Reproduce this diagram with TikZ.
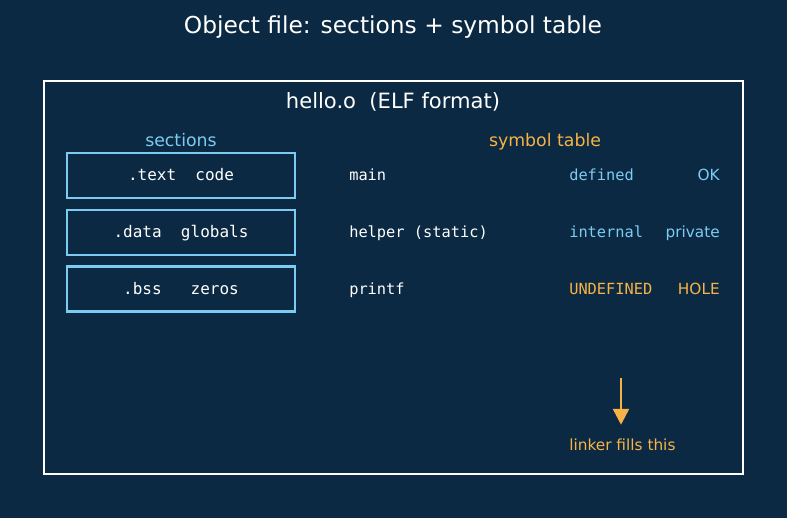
\documentclass[tikz,border=0pt]{standalone}
\usepackage{fontspec}
\setmainfont{DejaVu Sans}
\newfontfamily\codefont{DejaVu Sans Mono}
\usetikzlibrary{arrows.meta,positioning}
\definecolor{bgnavy}{HTML}{0B2942}
\definecolor{secblue}{HTML}{7CCBF2}
\definecolor{holeorange}{HTML}{F7B346}

\begin{document}
\begin{tikzpicture}[x=0.75pt,y=-0.75pt,
    secbox/.style={draw=secblue, line width=1.9pt, minimum width=171pt, minimum height=33.75pt,
        inner sep=0pt, text=white, text height=10pt, text depth=1.8pt,
        font=\codefont\fontsize{12}{14}\selectfont},
    symtext/.style={inner sep=0pt, font=\codefont\fontsize{11.5}{14}\selectfont},
    notetext/.style={inner sep=0pt, font=\fontsize{11.5}{14}\selectfont}]
    % Background and page size
    \fill[bgnavy] (0,0) rectangle (787,518);
    \useasboundingbox (0,0) rectangle (787,518);
    % Title
    \node[anchor=base, text=white, font=\fontsize{17.5}{20}\selectfont] (title) at (393,33)
        {Object file: sections + symbol table};
    % Object file frame
    \draw[white, line width=1.8pt] (44,81) rectangle (743,474);
    \node[anchor=base, text=white, font=\fontsize{15.8}{18}\selectfont] (hello) at (393,108)
        {hello.o\ \ (ELF format)};
    % Headers
    \node[anchor=base, text=secblue, font=\fontsize{13}{15}\selectfont] (sections) at (181,146) {sections};
    \node[anchor=base, text=holeorange, font=\fontsize{13}{15}\selectfont] (symtab) at (545,146) {symbol table};
    % Sections
    \node[secbox] (text) at (181,175.5) {.text\ \ code};
    \node[secbox] (data) at (181,232.5) {.data\ \ globals};
    \node[secbox] (bss) at (181,289) {.bss\ \ \ zeros};
    % Symbol table rows
    \foreach \y/\sym/\stat/\note/\col [count=\i] in
        {175/main/defined/OK/secblue,
         232/helper (static)/internal/private/secblue,
         289/printf/UNDEFINED/HOLE/holeorange} {
        \node[symtext, anchor=base west, text=white] (sym\i) at (349,\y+5) {\sym};
        \node[symtext, anchor=base west, text=\col] (stat\i) at (569,\y+5) {\stat};
        \node[notetext, anchor=base east, text=\col] (note\i) at (720,\y+5) {\note};
    }
    % Linker
    \node[notetext, anchor=base west, text=holeorange] (fill) at (569,450) {linker fills this};
    \coordinate (linktop) at (621,378);
    \draw[holeorange, line width=1.9pt, shorten >=10pt, -{Triangle[length=12pt, width=12pt]}]
        (linktop) -- (linktop |- fill.north);
\end{tikzpicture}
\end{document}
